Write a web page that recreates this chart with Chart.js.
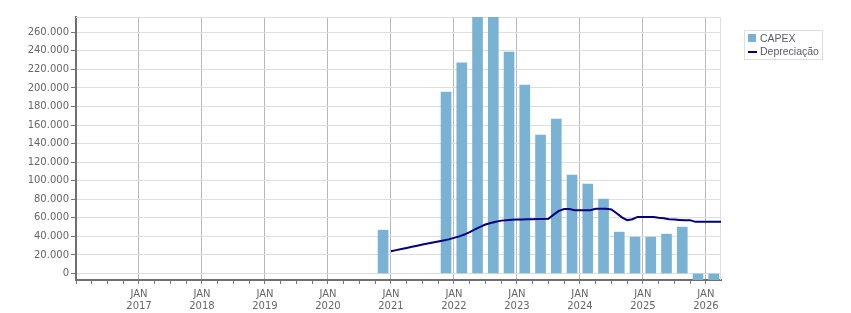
<!DOCTYPE html>
<html>
<head>
<meta charset="utf-8">
<script src="https://cdn.jsdelivr.net/npm/chart.js@4"></script>
<style>
  body { margin:0; background:#fff; }
  #wrap { position:relative; width:851px; height:313px; }
  #legend {
    position:absolute; left:744px; top:30px; width:77px; height:28px;
    border:1px solid #dedede; font-family:"Liberation Sans", sans-serif; font-size:10.5px; color:#5a5a6a;
  }
  #legend div { position:absolute; left:15px; line-height:13px; }
  #legend span { position:absolute; }
</style>
</head>
<body>
<div id="wrap">
  <canvas id="chart" width="851" height="313"></canvas>
  <div id="legend">
    <span style="left:3px;top:3px;width:8px;height:8px;background:#7ab2d4"></span>
    <div style="top:1px">CAPEX</div>
    <span style="left:3px;top:20px;width:9px;height:2px;background:#00007f"></span>
    <div style="top:14px">Depreciação</div>
  </div>
</div>
<script>
// trimestres com CAPEX (os outros são zero)
const capexQuarters = ["2020-Q4","2021-Q4","2022-Q1","2022-Q2","2022-Q3","2022-Q4",
  "2023-Q1","2023-Q2","2023-Q3","2023-Q4","2024-Q1","2024-Q2","2024-Q3","2024-Q4",
  "2025-Q1","2025-Q2","2025-Q3","2025-Q4","2026-Q1"];
const capexValues = [46700,195600,227000,290000,288000,238700,
  203100,149200,166500,106100,96400,80200,44600,39200,
  39200,42400,50000,-15000,-15000];

// depreciação mensal a partir de jan/2021
const deprStart = "2021-01";
const deprValues = [
  24000,25200,26400,27600,28800,30000,31200,32300,33400,34500,35600,36800,
  38400,40000,42000,44500,47500,50300,52800,54500,55700,57000,57500,58000,
  58200,58300,58500,58600,58700,58800,59000,63500,67500,69400,69400,68300,
  68300,68300,68300,69700,69700,69700,69000,65000,60500,57500,58500,61000,
  61000,61000,61000,60000,59500,58500,58200,57800,57500,57500,55700,55700,
  55700,55700,55700,55700
];

const yTicks = [0,20000,40000,60000,80000,100000,120000,140000,160000,180000,200000,220000,240000,260000];
const yearLabels = ["2016","2017","2018","2019","2020","2021","2022","2023","2024","2025","2026"];

function quarterX(q) {
  let p = q.split("-Q");
  return Number(p[0]) + (Number(p[1]) - 1) / 4 + 0.125;
}
function fmt(v) {
  return String(v).replace(/\B(?=(\d{3})+(?!\d))/g, ".");
}

let capexData = [];
for (let i = 0; i < capexQuarters.length; i++) {
  capexData.push({x: quarterX(capexQuarters[i]), y: capexValues[i]});
}
let y0 = Number(deprStart.split("-")[0]);
let m0 = Number(deprStart.split("-")[1]) - 1;
let deprData = [];
for (let i = 0; i < deprValues.length; i++) {
  deprData.push({x: y0 + (m0 + i) / 12, y: deprValues[i]});
}

const font = {family: "DejaVu Sans", size: 10};

const framePlugin = {
  id: "frame",
  beforeDatasetsDraw(chart) {
    let a = chart.chartArea, c = chart.ctx;
    c.save();
    c.strokeStyle = "#dedede";
    c.lineWidth = 1;
    c.beginPath();
    c.moveTo(a.left, a.top + 0.5);
    c.lineTo(a.right - 0.5, a.top + 0.5);
    c.lineTo(a.right - 0.5, a.bottom);
    c.stroke();
    c.restore();
  }
};

new Chart(document.getElementById("chart"), {
  type: "bar",
  data: {
    datasets: [
      {
        type: "line",
        label: "Depreciação",
        data: deprData,
        borderColor: "#00007f",
        borderWidth: 2,
        pointRadius: 0,
        tension: 0,
        order: 0
      },
      {
        label: "CAPEX",
        data: capexData,
        backgroundColor: "#7ab2d4",
        barThickness: 10,
        order: 1
      }
    ]
  },
  options: {
    responsive: false,
    animation: false,
    layout: { padding: { top: 17, right: 130, left: 0, bottom: 0 } },
    plugins: { legend: { display: false }, tooltip: { enabled: false } },
    scales: {
      x: {
        type: "linear",
        offset: false,
        min: 2016,
        max: 2026.24,
        afterBuildTicks: function(s) {
          let t = [];
          for (let i = 0; i < yearLabels.length; i++) {
            let yr = Number(yearLabels[i]);
            for (let q = 0; q < 4; q++) {
              if (yr + q / 4 <= 2026.24) t.push({value: yr + q / 4});
            }
          }
          s.ticks = t;
        },
        afterFit: function(s) { s.height = 33; },
        grid: {
          offset: false,
          color: function(ctx) {
            let v = ctx.tick ? ctx.tick.value : 0;
            return (Math.abs(v - Math.round(v)) < 0.001 && v > 2016) ? "#b8b8b8" : "rgba(0,0,0,0)";
          },
          tickColor: "#777",
          tickLength: 4
        },
        border: { color: "#707070", width: 2 },
        ticks: {
          autoSkip: false,
          maxRotation: 0,
          padding: 4,
          color: "#666",
          font: font,
          callback: function(v) {
            if (Math.abs(v - Math.round(v)) < 0.001 && v > 2016) return ["JAN", String(Math.round(v))];
            return "";
          }
        }
      },
      y: {
        min: -7000,
        max: 276500,
        afterBuildTicks: function(s) {
          s.ticks = yTicks.map(function(v) { return {value: v}; });
        },
        afterFit: function(s) { s.width = 76; },
        grid: { color: "#dedede", tickColor: "#777", tickLength: 5 },
        border: { color: "#707070", width: 2 },
        ticks: { padding: 2, color: "#666", font: font, callback: function(v) { return fmt(v); } }
      }
    }
  },
  plugins: [framePlugin]
});
</script>
</body>
</html>
